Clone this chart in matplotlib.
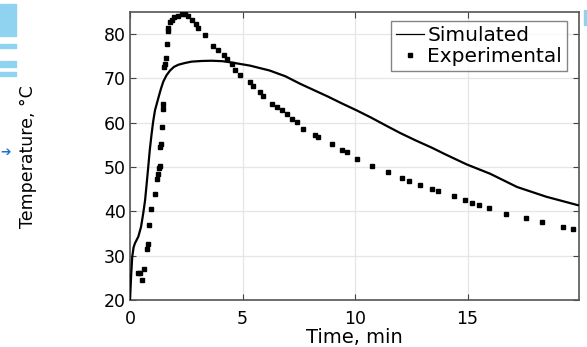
import matplotlib
matplotlib.use("Agg")
import matplotlib.pyplot as plt
from matplotlib.patches import Rectangle
from matplotlib.lines import Line2D

# Simulated curve
sim_t = [0, 0.05, 0.1, 0.16, 0.22, 0.3, 0.37, 0.49, 0.58, 0.67, 0.74, 0.81, 0.88, 0.96, 1.03, 1.11,
         1.26, 1.37, 1.48, 1.62, 1.78, 1.95, 2.15, 2.45, 2.74, 3.2, 3.63, 4.1, 4.52, 5.33, 6.2,
         6.9, 7.56, 8.2, 8.8, 9.4, 10.07, 10.7, 11.4, 12.0, 12.7, 13.4, 14.0, 14.96, 16.0,
         17.2, 18.5, 19.9]
sim_T = [20, 25.5, 29.8, 31.9, 32.8, 33.6, 34.3, 36.5, 39.3, 42.5, 46.2, 50, 53.9, 57.5, 60.3, 62.8,
         65.6, 67.6, 69.3, 70.7, 71.8, 72.6, 73.1, 73.5, 73.8, 73.95, 74, 73.9, 73.6, 72.9, 71.8,
         70.5, 68.8, 67.3, 65.9, 64.4, 62.8, 61.2, 59.3, 57.7, 56, 54.4, 52.9, 50.6, 48.5,
         45.5, 43.3, 41.4]

# Experimental points
exp_t = [0.37, 0.44, 0.55, 0.62, 0.74, 0.79, 0.84, 0.92, 1.11, 1.21, 1.26, 1.31, 1.34, 1.35, 1.38,
         1.42, 1.45, 1.48, 1.53, 1.57, 1.62, 1.65, 1.67, 1.70, 1.78, 1.85, 1.97, 2.12, 2.30, 2.44,
         2.59, 2.74, 2.92, 3.04, 3.33, 3.70, 3.90, 4.19, 4.30, 4.52, 4.67, 4.89, 5.33, 5.48, 5.78,
         5.93, 6.30, 6.52, 6.74, 6.96, 7.19, 7.41, 7.70, 8.22, 8.37, 8.96, 9.41, 9.63, 10.1, 10.74,
         11.48, 12.1, 12.4, 12.9, 13.4, 13.7, 14.4, 14.9, 15.2, 15.5, 15.97, 16.7, 17.6, 18.3,
         19.26, 19.7]
exp_T = [26.1, 26.0, 24.5, 27.1, 31.5, 32.6, 37.0, 40.5, 43.9, 47.3, 48.4, 49.7, 50.2, 54.5, 55.3,
         59.0, 63.2, 64.3, 72.5, 73.3, 74.6, 77.8, 80.8, 81.3, 82.7, 83.3, 83.8, 84.2, 84.6, 84.6,
         84.1, 83.3, 82.3, 81.3, 79.8, 77.4, 76.5, 75.2, 74.4, 73.3, 71.8, 70.7, 69.2, 68.4, 67.0,
         66.0, 64.3, 63.5, 62.8, 61.9, 60.9, 60.2, 58.7, 57.2, 56.8, 55.1, 53.8, 53.3, 51.9, 50.2,
         48.8, 47.5, 46.8, 45.9, 45.0, 44.5, 43.4, 42.5, 41.8, 41.4, 40.8, 39.3, 38.6, 37.6,
         36.4, 36.0]

series_labels = ['Simulated', 'Experimental']
x_ticks = [0, 5, 10, 15]
y_ticks = [20, 30, 40, 50, 60, 70, 80]

fig = plt.figure(figsize=(5.87, 3.47), dpi=100)
ax = fig.add_axes([130/587, 47/347, (579-130)/587, (300-12)/347])

ax.plot(sim_t, sim_T, color='black', lw=1.6, zorder=3)
ax.plot(exp_t, exp_T, ls='none', marker='s', ms=3, color='black', zorder=4)

ax.set_xlim(0, 19.95)
ax.set_ylim(20, 85)
ax.set_xticks(x_ticks)
ax.set_yticks(y_ticks)
ax.grid(True, color='#e6e6e6', lw=0.9)
ax.set_axisbelow(True)
ax.tick_params(direction='in', top=True, right=True, labelsize=12.5, length=4, color='#444444')
ax.tick_params(axis='x', pad=7)
ax.tick_params(axis='y', pad=3)
for s in ax.spines.values():
    s.set_color('#555555')
    s.set_linewidth(1.2)

ax.set_xlabel('Time, min', fontsize=14, labelpad=0)
fig.text(28/587, 1 - 157/347, 'Temperature, °C', rotation=90, fontsize=12.5,
         ha='center', va='center')

handles = [Line2D([], [], color='black', lw=0.9),
           Line2D([], [], ls='none', marker='s', ms=3, color='black')]
leg = ax.legend(handles, series_labels, loc='upper right', fontsize=14.5, frameon=True,
                fancybox=False, edgecolor='#666666', borderpad=0.25, handlelength=1.4,
                handletextpad=0.15, labelspacing=0.1, borderaxespad=0,
                bbox_to_anchor=((567-130)/449, (300-21)/288))
leg.get_frame().set_linewidth(1.0)

# decorative fragments at figure edges
fig.patches.append(Rectangle((0, 1 - 36/347), 16/587, 32/347, transform=fig.transFigure,
                             color='#8fd3f0', zorder=0))
for y0, h in [(44, 4), (61, 6), (72, 4)]:
    fig.patches.append(Rectangle((0, 1 - (y0 + h)/347), 16/587, h/347, transform=fig.transFigure,
                                 color='#8fd3f0', zorder=0))
fig.patches.append(Rectangle((584/587, 1 - 25/347), 3/587, 15/347, transform=fig.transFigure,
                             color='#8fd3f0', zorder=0))
fig.text(0, 1 - 153/347, '➔', color='#1a73c8', fontsize=9, ha='left', va='center',
         family='DejaVu Sans')

fig.savefig('out.png', dpi=100)
